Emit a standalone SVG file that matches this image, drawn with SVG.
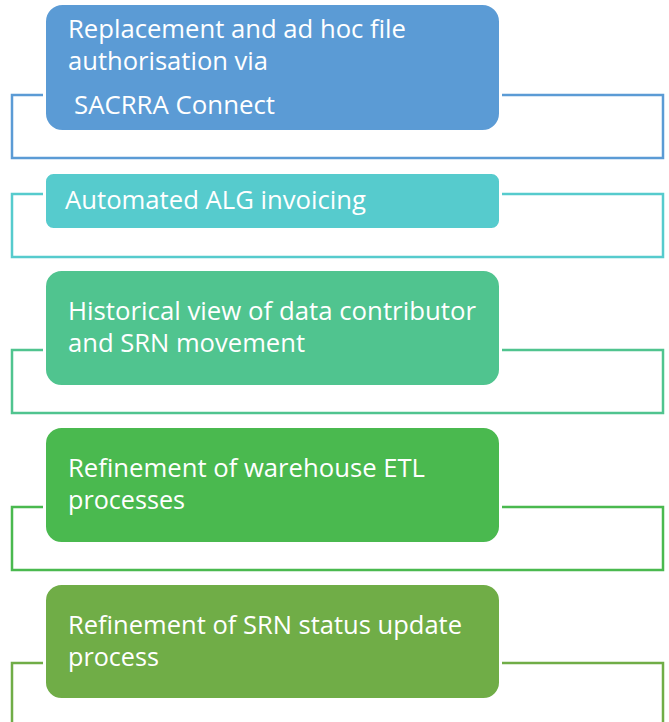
<svg xmlns="http://www.w3.org/2000/svg" width="669" height="722" viewBox="0 0 669 722">
<style>
.frame{fill:none;stroke-width:2.5}
.box{stroke:#ffffff;stroke-width:3}
.t{font-family:"Open Sans","Noto Sans","Liberation Sans",sans-serif;font-size:25px;fill:#ffffff}
</style>
<rect width="669" height="722" fill="#ffffff"/>
<g id="connectors">
<rect class="frame" x="12" y="95" width="651" height="63" stroke="#5B9BD5"/>
<rect class="frame" x="12" y="194" width="651" height="63" stroke="#56CBCD"/>
<rect class="frame" x="12" y="350" width="651" height="63" stroke="#50C48F"/>
<rect class="frame" x="12" y="507" width="651" height="63" stroke="#4AB94F"/>
<path class="frame" d="M12,730 V663 H663 V730" stroke="#70AD47"/>
</g>
<g id="node1">
<rect class="box" x="44.5" y="3.5" width="456" height="128" rx="18" fill="#5B9BD5"/>
<text class="t" x="68" y="38" textLength="338" lengthAdjust="spacingAndGlyphs">Replacement and ad hoc file</text>
<text class="t" x="68" y="70" textLength="200" lengthAdjust="spacingAndGlyphs">authorisation via</text>
<text class="t" x="74" y="114" textLength="201" lengthAdjust="spacingAndGlyphs">SACRRA Connect</text>
</g>
<g id="node2">
<rect class="box" x="44.5" y="172.5" width="456" height="57" rx="9" fill="#56CBCD"/>
<text class="t" x="65" y="209" textLength="301" lengthAdjust="spacingAndGlyphs">Automated ALG invoicing</text>
</g>
<g id="node3">
<rect class="box" x="44.5" y="269.5" width="456" height="117" rx="17" fill="#50C48F"/>
<text class="t" x="68" y="320" textLength="408" lengthAdjust="spacingAndGlyphs">Historical view of data contributor</text>
<text class="t" x="68" y="352" textLength="237" lengthAdjust="spacingAndGlyphs">and SRN movement</text>
</g>
<g id="node4">
<rect class="box" x="44.5" y="426.5" width="456" height="117" rx="17" fill="#4AB94F"/>
<text class="t" x="68" y="477" textLength="357" lengthAdjust="spacingAndGlyphs">Refinement of warehouse ETL</text>
<text class="t" x="68" y="509" textLength="117" lengthAdjust="spacingAndGlyphs">processes</text>
</g>
<g id="node5">
<rect class="box" x="44.5" y="583.5" width="456" height="116" rx="17" fill="#70AD47"/>
<text class="t" x="68" y="634" textLength="394" lengthAdjust="spacingAndGlyphs">Refinement of SRN status update</text>
<text class="t" x="68" y="666" textLength="91" lengthAdjust="spacingAndGlyphs">process</text>
</g>
</svg>
